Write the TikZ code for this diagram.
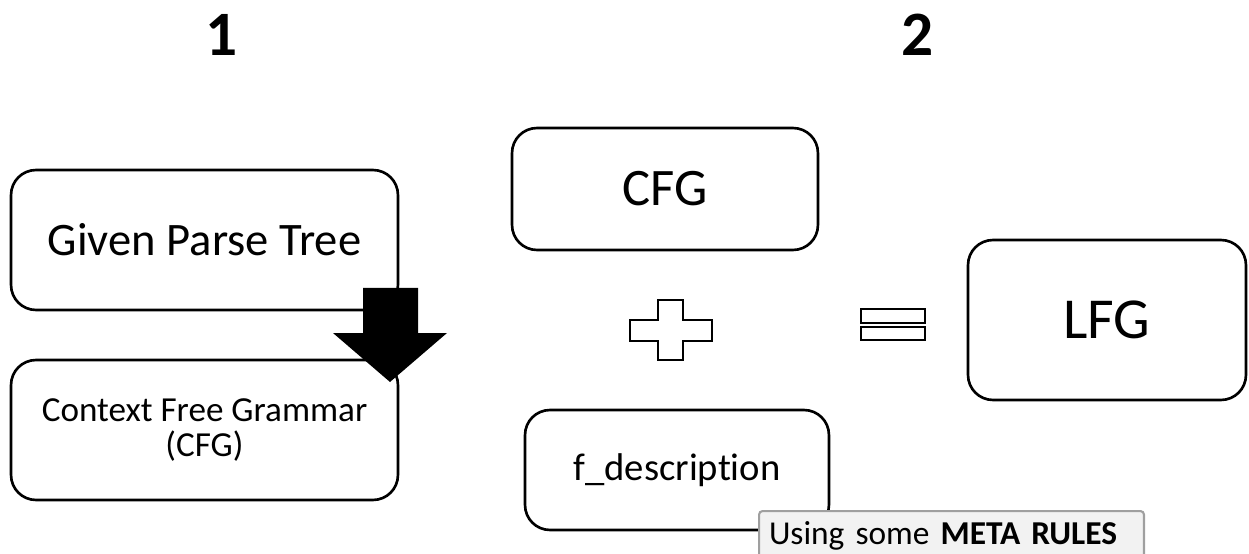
\documentclass[tikz,border=0pt]{standalone}
\usepackage{fontspec}
\setmainfont[Ligatures=NoCommon]{Carlito}
\usetikzlibrary{positioning}

\begin{document}
\begin{tikzpicture}[x=0.02cm,y=-0.02cm,
    every node/.style={align=center, inner sep=0pt},
    box/.style={draw, line width=1.5pt, rounded corners=0.5cm},
    numlabel/.style={font=\fontsize{36}{40}\selectfont\bfseries},
    sign/.style={draw, line width=1.3pt},
    note/.style={draw=gray!75, fill=gray!10, line width=1.2pt, rounded corners=2pt,
      anchor=north west, minimum width=7.7cm, minimum height=1cm,
      text width=7.3cm, align=left, inner xsep=0.2cm,
      font=\fontsize{19}{22}\selectfont}]

    \useasboundingbox (0,0) rectangle (1249,554);

    \node[numlabel] (one) at (222,35) {1};
    \node[numlabel] (two) at (918,35) {2};

    \node[box, minimum width=7.74cm, minimum height=2.8cm,
      font=\fontsize{26.5}{30}\selectfont] (tree) at (204.5,240) {Given Parse Tree};
    \node[box, minimum width=7.74cm, minimum height=2.8cm,
      font=\fontsize{20}{20}\selectfont] (grammar) at (204.5,430) {Context Free Grammar\\(CFG)};

    \fill (363,288) -- (418,288) -- (418,333) -- (447,333) -- (390,382)
      -- (333,333) -- (363,333) -- cycle;

    \node[box, minimum width=6.12cm, minimum height=2.44cm,
      font=\fontsize{30}{34}\selectfont] (cfg) at (665,189) {CFG};
    \node[box, minimum width=6.08cm, minimum height=2.4cm,
      font=\fontsize{22}{26}\selectfont] (fdesc) at (677,470) {f\_description};
    \node[box, minimum width=5.56cm, minimum height=3.2cm,
      font=\fontsize{33}{38}\selectfont] (lfg) at (1107,320) {LFG};

    \draw[sign] (658,300) -- (683,300) -- (683,320) -- (712,320) -- (712,341)
      -- (683,341) -- (683,360) -- (658,360) -- (658,341) -- (630,341)
      -- (630,320) -- (658,320) -- cycle;
    \draw[sign] (861,309) rectangle (925,323);
    \draw[sign] (861,327) rectangle (925,340);

    \node[note] (meta) at (758,510) {Using some \textbf{META RULES}};
\end{tikzpicture}
\end{document}
